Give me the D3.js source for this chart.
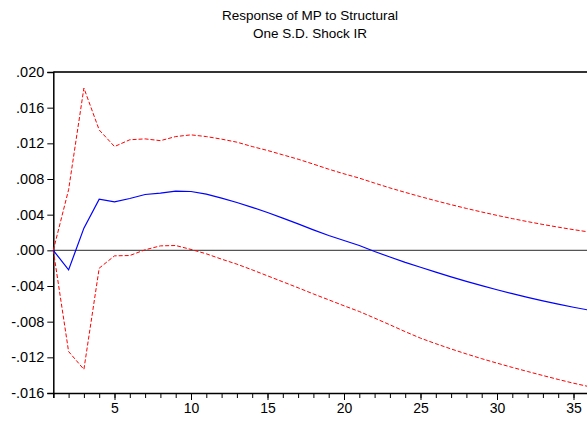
<!DOCTYPE html>
<html><head><meta charset="utf-8">
<script src="https://cdn.jsdelivr.net/npm/d3@7"></script>
<style>html,body{margin:0;padding:0;background:#fff;overflow:hidden}</style>
</head><body>
<script>
const periods = d3.range(1, 37);
const response = [0, -0.00219, 0.00249, 0.00574, 0.00544, 0.00581, 0.00626, 0.00641, 0.00664, 0.0066,
  0.0063, 0.00585, 0.00536, 0.00482, 0.00424, 0.00361, 0.00297, 0.0023, 0.00166, 0.0011,
  0.00054, -0.00013, -0.00075, -0.00135, -0.0019, -0.00245, -0.00298, -0.00348, -0.00396, -0.00442,
  -0.00486, -0.00527, -0.00566, -0.00603, -0.00638, -0.0067];
const upperBand = [0, 0.0068, 0.0182, 0.0135, 0.01164, 0.0124, 0.0125, 0.0123, 0.01276, 0.01295,
  0.01276, 0.01247, 0.01213, 0.01164, 0.0112, 0.01071, 0.01022, 0.00967, 0.0091, 0.00858,
  0.0081, 0.00754, 0.007, 0.0065, 0.00602, 0.00556, 0.00512, 0.0047, 0.0043, 0.00392,
  0.00356, 0.00322, 0.0029, 0.0026, 0.00232, 0.00206];
const lowerBand = [0, -0.01135, -0.01335, -0.002, -0.00062, -0.00058, 0.00006, 0.0005, 0.00054, 0.0001,
  -0.00039, -0.00099, -0.00155, -0.00219, -0.00286, -0.00353, -0.0042, -0.00489, -0.00555, -0.00622,
  -0.00686, -0.0076, -0.00835, -0.00912, -0.00985, -0.01047, -0.01106, -0.01162, -0.01215, -0.01265,
  -0.01313, -0.01359, -0.01404, -0.01448, -0.0149, -0.01528];
const yTicks = [0.020, 0.016, 0.012, 0.008, 0.004, 0.000, -0.004, -0.008, -0.012, -0.016];
const xLabelTicks = [5, 10, 15, 20, 25, 30, 35];
const titleLines = ["Response of MP to Structural", "One S.D. Shock IR"];

const W = 587, H = 424;
const mLeft = 53.3, mRight = 588.8, mTop = 72, mBottom = 393;

const svg = d3.select("body").append("svg").attr("width", W).attr("height", H)
  .style("font-family", "'Liberation Sans', Arial, sans-serif");

const x = d3.scaleLinear().domain([1, 36]).range([mLeft, mRight]);
const y = d3.scaleLinear().domain([-0.016, 0.020]).range([mBottom, mTop]);

// title
svg.selectAll("text.title").data(titleLines).enter().append("text")
  .attr("class", "title")
  .attr("x", 310).attr("y", (d, i) => 20 + i * 18)
  .attr("text-anchor", "middle").attr("font-size", 13.5).attr("fill", "#000")
  .text(d => d);

// frame top
svg.append("line").attr("x1", mLeft).attr("x2", W + 5).attr("y1", mTop).attr("y2", mTop)
  .attr("stroke", "#333").attr("stroke-width", 2);

// zero line
svg.append("line").attr("x1", mLeft).attr("x2", W + 5).attr("y1", y(0)).attr("y2", y(0))
  .attr("stroke", "#555").attr("stroke-width", 1.2);

const fmt = v => {
  const s = Math.abs(v).toFixed(3).replace(/^0/, "");
  return (v < -1e-9 ? "-" : "") + s;
};

// y axis
const yAxis = svg.append("g").attr("transform", `translate(${mLeft},0)`)
  .call(d3.axisLeft(y).tickValues(yTicks).tickFormat(fmt).tickSize(6).tickPadding(3));
yAxis.select(".domain").attr("stroke", "#000").attr("stroke-width", 1.5);
yAxis.selectAll(".tick line").attr("stroke", "#000");
yAxis.selectAll("text").attr("font-size", 14.5).attr("fill", "#000")
  .attr("font-family", "'Liberation Sans', Arial, sans-serif");

// x axis
const xMinor = svg.append("g").attr("transform", `translate(0,${mBottom})`)
  .call(d3.axisBottom(x).tickValues(periods).tickFormat("").tickSize(5));
xMinor.select(".domain").attr("stroke", "#000").attr("stroke-width", 1.5);
xMinor.selectAll(".tick line").attr("stroke", "#000");
const xMajor = svg.append("g").attr("transform", `translate(0,${mBottom})`)
  .call(d3.axisBottom(x).tickValues(xLabelTicks).tickFormat(d3.format("d")).tickSize(7).tickPadding(3));
xMajor.select(".domain").remove();
xMajor.selectAll(".tick line").attr("stroke", "#000");
xMajor.selectAll("text").attr("font-size", 14).attr("fill", "#000")
  .attr("font-family", "'Liberation Sans', Arial, sans-serif");

const line = d3.line().x((d, i) => x(periods[i])).y(d => y(d));

svg.append("path").datum(upperBand).attr("d", line).attr("fill", "none")
  .attr("stroke", "#ff0000").attr("stroke-width", 1).attr("stroke-dasharray", "4,2");
svg.append("path").datum(lowerBand).attr("d", line).attr("fill", "none")
  .attr("stroke", "#ff0000").attr("stroke-width", 1).attr("stroke-dasharray", "4,2");
svg.append("path").datum(response).attr("d", line).attr("fill", "none")
  .attr("stroke", "#0000ff").attr("stroke-width", 1.2);
</script>
</body></html>
